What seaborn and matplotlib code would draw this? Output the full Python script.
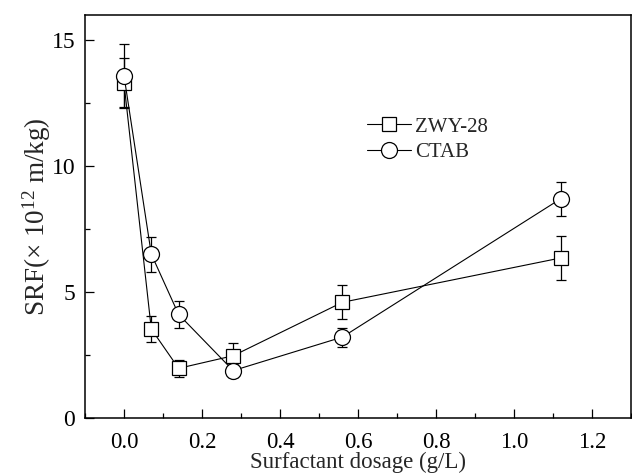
import numpy as np
import pandas as pd
import matplotlib
matplotlib.use("Agg")
import matplotlib.pyplot as plt
import seaborn as sns
from matplotlib.lines import Line2D
from matplotlib.ticker import MultipleLocator

# ---- data ----
dosage = [0.0, 0.07, 0.14, 0.28, 0.56, 1.12]
zwy28 = [13.28, 3.53, 1.97, 2.47, 4.59, 6.35]
zwy28_err = [1.0, 0.52, 0.33, 0.49, 0.68, 0.88]
ctab = [13.58, 6.50, 4.11, 1.88, 3.21, 8.70]
ctab_err = [1.25, 0.70, 0.52, 0.25, 0.38, 0.68]
series_names = ["ZWY-28", "CTAB"]
x_ticks = [0.0, 0.2, 0.4, 0.6, 0.8, 1.0, 1.2]
y_ticks = [0, 5, 10, 15]

sns.set_theme(style="ticks")
plt.rcParams["font.family"] = ["Liberation Serif", "DejaVu Serif"]
plt.rcParams["mathtext.fontset"] = "custom"
plt.rcParams["mathtext.rm"] = "Liberation Serif"
plt.rcParams["mathtext.it"] = "Liberation Serif:italic"
plt.rcParams["mathtext.bf"] = "Liberation Serif:bold"

df = pd.DataFrame({
    "dosage": dosage * 2,
    "SRF": zwy28 + ctab,
    "series": [series_names[0]] * len(dosage) + [series_names[1]] * len(dosage),
})

fig = plt.figure(figsize=(6.32, 4.75), dpi=100)
ax = fig.add_axes([85 / 632, 57 / 475, 546 / 632, 403.3 / 475])

markers = {"ZWY-28": "s", "CTAB": "o"}

for name, vals, errs in [("ZWY-28", zwy28, zwy28_err), ("CTAB", ctab, ctab_err)]:
    ax.errorbar(dosage, vals, yerr=errs, fmt="none", ecolor="black",
                elinewidth=0.9, capsize=3.5, capthick=0.9, zorder=2)

sns.lineplot(data=df, x="dosage", y="SRF", hue="series", style="series",
             markers=markers, dashes=False, palette=["black", "black"],
             markersize=10.5, markerfacecolor="white", markeredgecolor="black",
             markeredgewidth=0.9, linewidth=0.8, ax=ax, legend=False, zorder=3,
             estimator=None, sort=False)

for line in ax.get_lines():
    if line.get_marker() == "s":
        line.set_markersize(10)
    elif line.get_marker() == "o":
        line.set_markersize(11.5)

ax.set_xlim(-0.1, 1.3)
ax.set_ylim(0, 16)
ax.set_xticks(x_ticks)
ax.set_xticklabels([f"{t:.1f}" for t in x_ticks])
ax.set_yticks(y_ticks)
ax.xaxis.set_minor_locator(MultipleLocator(0.1))
ax.yaxis.set_minor_locator(MultipleLocator(2.5))
ax.tick_params(axis="both", which="major", direction="in", length=6.5, width=0.9,
               color="black", labelcolor="black")
ax.tick_params(axis="x", which="major", labelsize=16.5, pad=10)
ax.tick_params(axis="y", which="major", labelsize=17, pad=7)
ax.tick_params(axis="both", which="minor", direction="in", length=3.6, width=0.9,
               color="black")
for side in ["left", "bottom", "top", "right"]:
    ax.spines[side].set_visible(True)
    ax.spines[side].set_linewidth(1.1)
    ax.spines[side].set_color("black")

ax.set_xlabel("Surfactant dosage (g/L)", fontsize=16.5, labelpad=-1)
ax.set_ylabel("SRF(\u00d7 10$^{12}$ m/kg)", fontsize=19.5, labelpad=-1)

handles = [
    Line2D([0], [0], color="black", lw=0.8, marker="s", markersize=10,
           markerfacecolor="white", markeredgecolor="black", markeredgewidth=0.9),
    Line2D([0], [0], color="black", lw=0.8, marker="o", markersize=11.5,
           markerfacecolor="white", markeredgecolor="black", markeredgewidth=0.9),
]
ax.legend(handles, series_names, loc="upper left",
          bbox_to_anchor=(367 / 632, (475 - 117) / 475),
          bbox_transform=fig.transFigure, frameon=False, fontsize=15,
          handlelength=2.1, handletextpad=0.2, borderpad=0, borderaxespad=0,
          labelspacing=0.3)

fig.savefig("out.png", dpi=100)
